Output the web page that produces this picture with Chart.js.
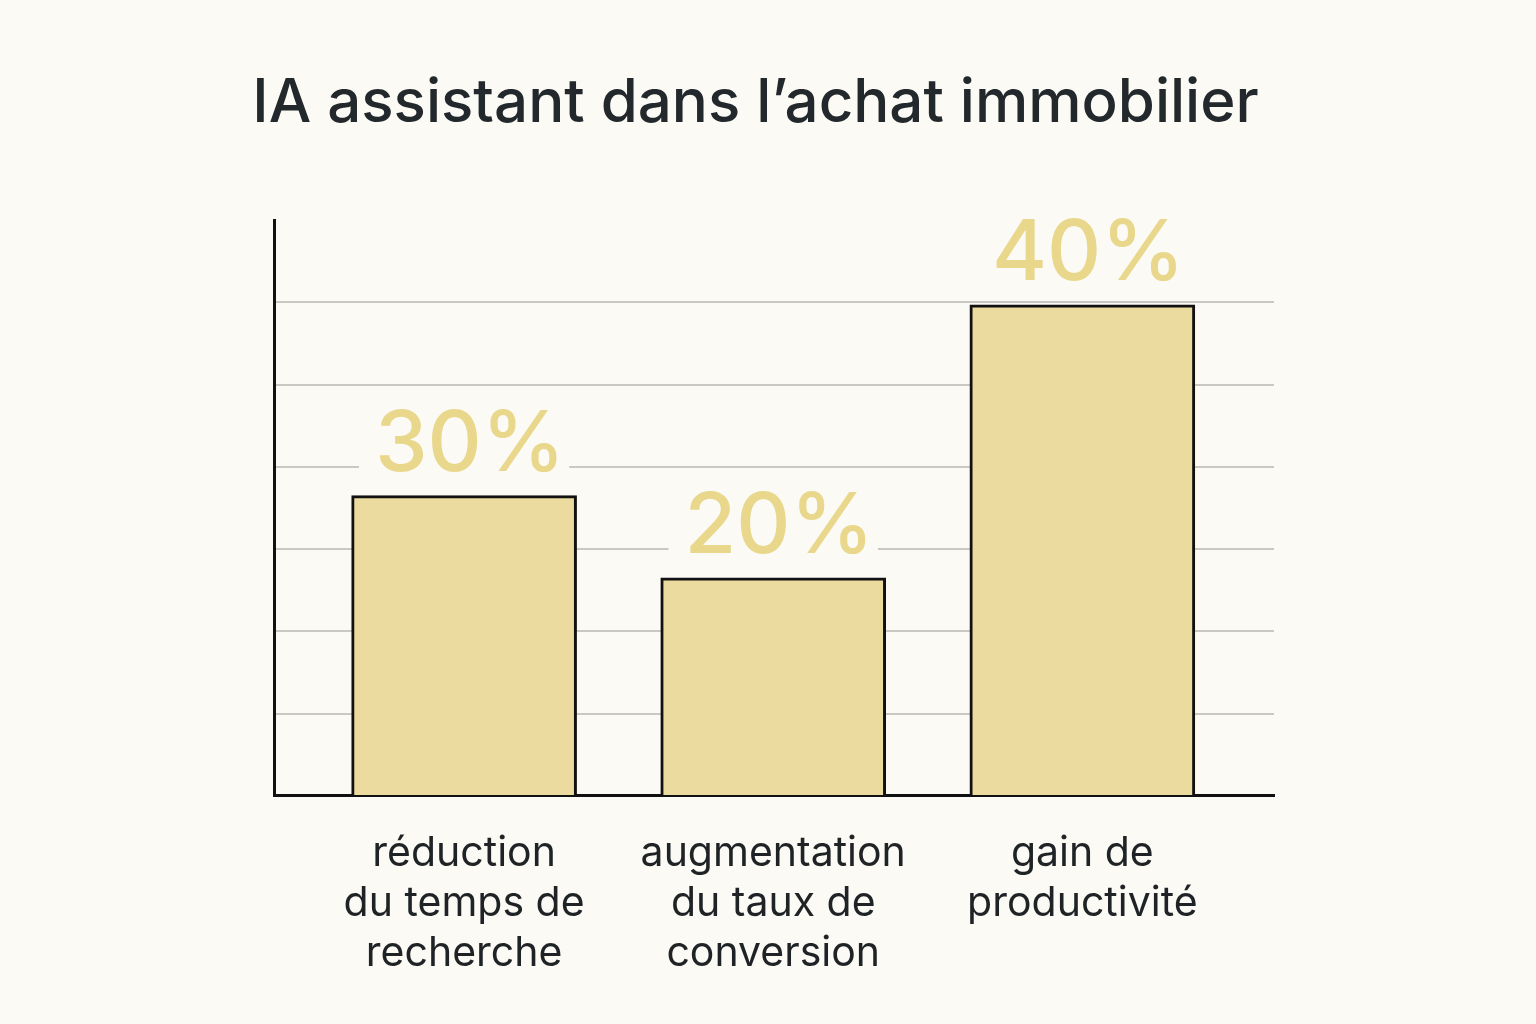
<!DOCTYPE html>
<html>
<head>
<meta charset="utf-8">
<script src="https://cdn.jsdelivr.net/npm/chart.js@4.4.1/dist/chart.umd.min.js"></script>
<style>
  html, body { margin: 0; padding: 0; background: #fbfaf5; }
  #wrap { width: 1536px; height: 1024px; }
</style>
</head>
<body>
<div id="wrap"><canvas id="barChart"></canvas></div>
<script>
// categories (multi-line labels)
var categories = [
    ["réduction", "du temps de", "recherche"],
    ["augmentation", "du taux de", "conversion"],
    ["gain de", "productivité"],
];
// bar heights, in gridline units
var barHeights = [3.65, 2.65, 5.97];
// value labels printed above the bars
var valueLabels = ["30%", "20%", "40%"];

var BG = "#fbfaf5";

// draws the big gold percentages above each bar
var valueLabelPlugin = {
    id: "valueLabels",
    afterDatasetsDraw: function (chart) {
        var ctx = chart.ctx;
        var meta = chart.getDatasetMeta(0);
        ctx.save();
        ctx.font = "500 84px Inter";
        ctx.textAlign = "center";
        ctx.textBaseline = "alphabetic";
        meta.data.forEach(function (bar, i) {
            var txt = valueLabels[i];
            var w = ctx.measureText(txt).width;
            var base = bar.y - 25;
            ctx.fillStyle = BG;
            ctx.fillRect(bar.x - w / 2 - 10, base - 66, w + 20, 70);
            ctx.fillStyle = "#e9d78b";
            ctx.fillText(txt, bar.x + 6, base);
        });
        ctx.restore();
    },
};

var barData = barHeights.map(function (v, i) {
    return { x: i, y: v };
});

new Chart(document.getElementById("barChart"), {
    type: "bar",
    data: {
        datasets: [
            {
                data: barData,
                backgroundColor: "#ecdb9e",
                borderColor: "#111111",
                borderWidth: 3,
                borderSkipped: "bottom",
                barThickness: 225,
            },
        ],
    },
    options: {
        responsive: true,
        maintainAspectRatio: false,
        animation: false,
        layout: {
            padding: { left: 237, right: 262, top: 0, bottom: 12 },
        },
        plugins: {
            legend: { display: false },
            tooltip: { enabled: false },
            title: {
                display: true,
                text: "IA assistant dans l’achat immobilier",
                color: "#22282b",
                font: { family: "Inter", size: 60, weight: "500" },
                padding: { top: 68, bottom: 80 },
            },
        },
        scales: {
            x: {
                type: "linear",
                offset: false,
                min: -0.615,
                max: 2.62,
                afterBuildTicks: function (scale) {
                    scale.ticks = categories.map(function (c, i) {
                        return { value: i };
                    });
                },
                grid: { color: "rgba(0,0,0,0)", drawTicks: false },
                border: { display: true, color: "#111111", width: 3 },
                ticks: {
                    autoSkip: false,
                    maxRotation: 0,
                    padding: 33,
                    color: "#1f2326",
                    font: { family: "Inter", size: 41, lineHeight: 1.22 },
                    callback: function (value) {
                        return categories[value] || "";
                    },
                },
            },
            y: {
                min: 0,
                max: 7,
                afterFit: function (scale) {
                    scale.width = 37;
                },
                ticks: { display: false, stepSize: 1 },
                grid: {
                    drawTicks: false,
                    lineWidth: 2,
                    color: function (context) {
                        var v = context.tick && context.tick.value;
                        if (v === 0 || v === 7) return "rgba(0,0,0,0)";
                        return "#cac8c2";
                    },
                },
                border: { display: true, color: "#111111", width: 3 },
            },
        },
    },
    plugins: [valueLabelPlugin],
});
</script>
</body>
</html>
